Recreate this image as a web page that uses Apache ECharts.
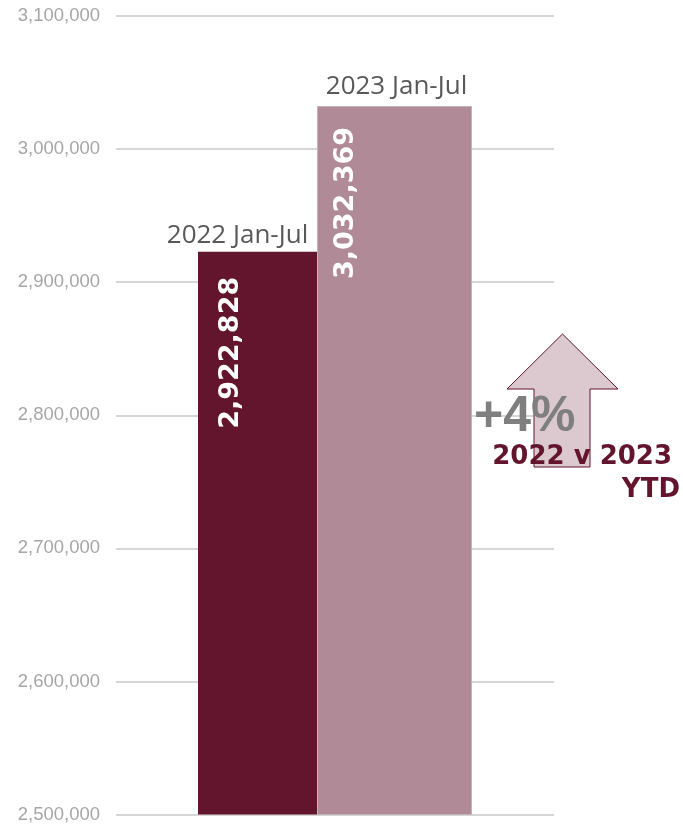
<!DOCTYPE html>
<html>
<head>
<meta charset="utf-8">
<script src="https://cdn.jsdelivr.net/npm/echarts@6/dist/echarts.min.js"></script>
<style>
html,body{margin:0;padding:0;background:#fff;}
#chart{width:683px;height:824px;}
</style>
</head>
<body>
<div id="chart"></div>
<script>
// Data
const categories = ['2022 Jan-Jul', '2023 Jan-Jul'];
const values = [2922828, 3032369];
const yTicks = [2500000, 2600000, 2700000, 2800000, 2900000, 3000000, 3100000];
const changeLabel = '+4%';
const compareLabel = ['2022 v 2023', 'YTD'];

const fmt = v => v.toLocaleString('en-US');

const chart = echarts.init(document.getElementById('chart'));

const barColors = ['#62152d', '#b08a96'];
const barWidths = [119, 155];
const valueLabelOffset = [[0, -27], [0, -49]];
const valueLabelDist = [25, 21];
const nameLabelOffset = [[-20, 0], [2, 0]];
const nameLabelDist = [3, 6];

const series = values.map((v, i) => ({
  type: 'bar',
  name: categories[i],
  data: [v],
  barWidth: barWidths[i],
  barGap: '0%',
  itemStyle: {
    color: barColors[i],
    borderColor: i === 1 ? '#c4b4ba' : barColors[i],
    borderWidth: i === 1 ? 1 : 0
  },
  label: {
    show: true,
    position: 'insideTop',
    rotate: 90,
    align: 'right',
    verticalAlign: 'middle',
    distance: valueLabelDist[i],
    offset: valueLabelOffset[i],
    formatter: p => fmt(p.value),
    color: '#ffffff',
    fontFamily: 'DejaVu Sans',
    fontWeight: 'bold',
    fontSize: 27
  },
  markPoint: {
    symbol: 'rect',
    symbolSize: 0,
    silent: true,
    itemStyle: { color: 'transparent' },
    label: {
      show: true,
      position: 'top',
      distance: nameLabelDist[i],
      offset: nameLabelOffset[i],
      formatter: () => categories[i],
      color: '#595959',
      fontFamily: 'Open Sans',
      fontSize: 26
    },
    data: [{ type: 'max' }]
  }
}));

const option = {
  animation: false,
  backgroundColor: '#ffffff',
  grid: { left: 116, right: 129, top: 16, bottom: 9, containLabel: false },
  xAxis: {
    type: 'category',
    data: ['YTD'],
    axisLine: { show: false },
    axisTick: { show: false },
    axisLabel: { show: false }
  },
  yAxis: {
    type: 'value',
    min: yTicks[0],
    max: yTicks[yTicks.length - 1],
    interval: yTicks[1] - yTicks[0],
    axisLine: { show: false },
    axisTick: { show: false },
    axisLabel: {
      margin: 16,
      color: '#a6a6a6',
      fontFamily: 'Liberation Sans',
      fontSize: 18.5,
      formatter: v => fmt(v)
    },
    splitLine: { show: true, lineStyle: { color: '#c8c8c8', width: 1.6 } }
  },
  series: series,
  graphic: [
    {
      type: 'polygon',
      z: 10,
      shape: {
        points: [[562.5, 334], [618, 389], [590, 389], [590, 467], [534, 467], [534, 389], [507, 389]]
      },
      style: { fill: '#dcc9d0', stroke: '#62152d', lineWidth: 1 }
    },
    {
      type: 'text',
      z: 11,
      left: 474,
      top: 392,
      style: {
        text: changeLabel,
        fill: '#7f7f7f',
        font: 'bold 50px "Liberation Sans"'
      }
    },
    {
      type: 'text',
      z: 11,
      right: 683 - 672,
      top: 444,
      style: {
        text: compareLabel[0],
        fill: '#62152d',
        font: 'bold 26px "DejaVu Sans"',
        align: 'right'
      }
    },
    {
      type: 'text',
      z: 11,
      right: 683 - 680,
      top: 477,
      style: {
        text: compareLabel[1],
        fill: '#62152d',
        font: 'bold 26px "DejaVu Sans"',
        align: 'right'
      }
    }
  ]
};

chart.setOption(option);
</script>
</body>
</html>
